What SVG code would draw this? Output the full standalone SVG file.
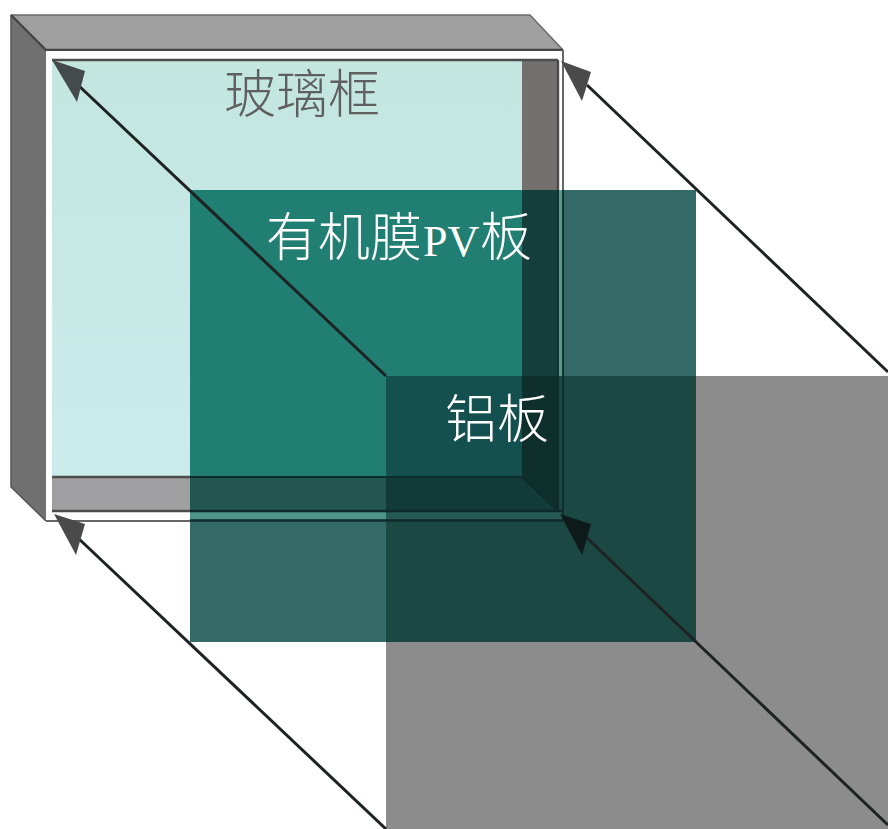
<svg xmlns="http://www.w3.org/2000/svg" width="888" height="829" viewBox="0 0 888 829">
<style>
.ln{stroke:#1e2222;stroke-width:3;fill:none}
.t{font-family:"Noto Sans CJK SC",sans-serif;font-size:52px;font-weight:300}
.s{font-family:"Liberation Serif",serif;font-size:44px}
</style>
<defs>
<linearGradient id="glass" x1="0" y1="0" x2="0" y2="1"><stop offset="0" stop-color="#c3e6df"/><stop offset="1" stop-color="#ccebec"/></linearGradient>
</defs>
<rect width="888" height="829" fill="#fff"/>
<g id="aluminium-plate"><rect x="386" y="376" width="502" height="453" fill="#8c8c8c"/></g>
<g id="glass-frame">
<path d="M11 15H530L563 50H46Z" fill="#a0a0a0"/>
<path d="M11 15L46 50V521L11 487Z" fill="#707070"/>
<path d="M11 15H530L563 50" fill="none" stroke="#6a6a6a" stroke-width="1.5"/>
<path d="M11 15V487L46 521" fill="none" stroke="#555" stroke-width="1.5"/>
<path d="M11 15L46 50H563" fill="none" stroke="#454545" stroke-width="2.4"/>
<rect x="46" y="51" width="517" height="470" fill="#fff"/>
<rect x="52" y="60" width="470" height="417" fill="url(#glass)"/>
<path d="M522 60H558V511L522 477Z" fill="#737070"/>
<path d="M52 477H522L558 511H52Z" fill="#a0a0a2"/>
<path d="M52 60H558M52 477H522L558 511M52 511H558M558 60V511" fill="none" stroke="#4c4c4c" stroke-width="2.4"/>
<path d="M563 50V521M46 521H563" fill="none" stroke="#666" stroke-width="2"/>
</g>
<g id="pv-panel">
<rect x="190" y="190" width="506" height="452" fill="#346b68"/>
<rect x="190" y="190" width="332" height="287" fill="#207e72"/>
<rect x="522" y="190" width="36" height="321" fill="#143f3d"/>
<rect x="558" y="190" width="5" height="331" fill="#5c9a90"/>
<rect x="190" y="477" width="332" height="34" fill="#245650"/>
<path d="M522 477L558 511H522Z" fill="#245650"/>
<rect x="190" y="511" width="373" height="10" fill="#4d9586"/>
</g>
<g id="overlap">
<rect x="386" y="376" width="310" height="266" fill="#1c4844"/>
<rect x="386" y="376" width="136" height="101" fill="#14504f"/>
<path d="M386 477H522L558 511H386Z" fill="#123a36"/>
<path d="M522 376H558V511L522 477Z" fill="#0f2f2d"/>
<rect x="386" y="511" width="177" height="10" fill="#265a53"/>
<path d="M190 511H563M190 520.5H563" stroke="#0f2a2a" stroke-width="2.6" fill="none"/>
<path d="M190 477H522L558 511M558 190V511M563 190V521" stroke="#0e2c2c" stroke-width="1.8" fill="none"/>
</g>
<g id="connectors">
<path class="ln" d="M386 376L78 85"/>
<path class="ln" d="M888 372L587 85"/>
<path class="ln" d="M386 829L78 538"/>
<path class="ln" d="M888 825L587 538"/>
<path d="M52 60L85 71L77 102Z" fill="#444b4a"/>
<path d="M561 61L591 72L582 101Z" fill="#4a4a4a"/>
<path d="M54 514L85 524L76 555Z" fill="#4a4a4a"/>
<path d="M560 514L591 524L582 555Z" fill="#0f1a1a"/>
</g>
<g id="labels">
<text x="224" y="113" class="t" fill="#5f5f5f">玻璃框</text>
<text x="266" y="256" class="t" fill="#fff">有机膜</text>
<text x="423" y="256" class="s" fill="#fff">PV</text>
<text x="480" y="256" class="t" fill="#fff">板</text>
<text x="445" y="438" class="t" fill="#fff">铝板</text>
</g>
</svg>
